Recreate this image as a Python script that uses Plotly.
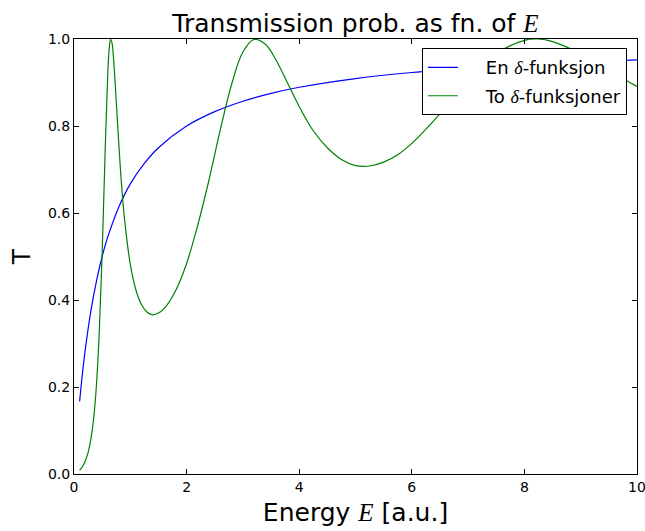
import plotly.graph_objects as go

# ---- data ----
energy_single = [0.1, 0.15, 0.2, 0.3, 0.4, 0.5, 0.6, 0.8, 1.0, 1.25, 1.5, 2.0, 2.5,
                 3.0, 3.5, 4.0, 5.0, 6.0, 7.0, 8.0, 9.0, 10.0]
T_single = [0.167, 0.231, 0.286, 0.375, 0.444, 0.500, 0.545, 0.615, 0.667, 0.714,
            0.750, 0.800, 0.833, 0.857, 0.875, 0.889, 0.909, 0.923, 0.933, 0.941,
            0.947, 0.952]

energy_double = [0.1, 0.15, 0.2, 0.25, 0.3, 0.35, 0.4, 0.45, 0.5, 0.55, 0.6, 0.625,
                 0.65, 0.675, 0.7, 0.75, 0.8, 0.85, 0.9, 1.0, 1.1, 1.2, 1.3, 1.4,
                 1.5, 1.6, 1.8, 2.0, 2.2, 2.4, 2.6, 2.8, 3.0, 3.2, 3.4, 3.6, 3.8,
                 4.0, 4.25, 4.5, 4.75, 5.0, 5.25, 5.5, 5.75, 6.0, 6.5, 7.0, 7.5,
                 8.0, 8.25, 8.5, 9.0, 9.5, 10.0]
T_double = [0.009, 0.017, 0.030, 0.049, 0.080, 0.129, 0.207, 0.329, 0.507, 0.727,
            0.920, 0.977, 0.999, 0.991, 0.959, 0.858, 0.750, 0.656, 0.583, 0.482,
            0.423, 0.389, 0.372, 0.366, 0.370, 0.380, 0.420, 0.484, 0.573, 0.677,
            0.792, 0.896, 0.970, 0.999, 0.988, 0.949, 0.897, 0.845, 0.789, 0.750,
            0.723, 0.709, 0.708, 0.717, 0.734, 0.760, 0.828, 0.904, 0.966, 0.997,
            1.000, 0.994, 0.966, 0.927, 0.891]

x_ticks = [0, 2, 4, 6, 8, 10]
x_tick_text = ["0", "2", "4", "6", "8", "10"]
y_ticks = [0.0, 0.2, 0.4, 0.6, 0.8, 1.0]
y_tick_text = ["0.0", "0.2", "0.4", "0.6", "0.8", "1.0"]

MATH = "font-family:'Liberation Serif', 'DejaVu Serif', serif"
FONT = "DejaVu Sans"
PAD = "\u00a0\u00a0\u00a0\u00a0"

fig = go.Figure()
fig.add_trace(go.Scatter(
    x=energy_single, y=T_single, mode="lines", line_shape="spline",
    line=dict(color="#0000ff", width=1.2),
    name=f"{PAD}En <span style=\"{MATH}\"><i>δ</i></span>-funksjon",
    legendgroup="a",
))
fig.add_trace(go.Scatter(
    x=energy_double, y=T_double, mode="lines", line_shape="spline",
    line=dict(color="#008000", width=1.2),
    name=f"{PAD}To <span style=\"{MATH}\"><i>δ</i></span>-funksjoner",
    legendgroup="b",
))

axis_common = dict(
    showline=True, linecolor="#000000", linewidth=1, mirror="ticks",
    ticks="inside", ticklen=5, tickwidth=1, tickcolor="#000000",
    showgrid=False, zeroline=False, ticklabeloverflow="allow",
    automargin=False,
    tickfont=dict(family=FONT, size=14, color="#000000"),
)

fig.update_layout(
    width=645, height=531,
    margin=dict(l=74, r=8, t=39, b=57),
    paper_bgcolor="white", plot_bgcolor="white",
    font=dict(family=FONT, color="#000000"),
    title=dict(
        text=f"Transmission prob. as fn. of <span style=\"{MATH}\"><i>E</i></span>",
        x=0.5, xref="paper", xanchor="center",
        y=1, yref="paper", yanchor="bottom", pad=dict(b=7),
        font=dict(family=FONT, size=25, color="#000000"),
    ),
    xaxis=dict(
        range=[0, 10.0001], tickvals=x_ticks, ticktext=x_tick_text,
        title=dict(text=f"Energy <span style=\"{MATH}\"><i>E</i></span> [a.u.]",
                   font=dict(family=FONT, size=25, color="#000000"), standoff=9),
        **axis_common,
    ),
    yaxis=dict(
        range=[0, 1], tickvals=y_ticks, ticktext=y_tick_text,
        title=dict(text="T", font=dict(family=FONT, size=25, color="#000000"),
                   standoff=10),
        **axis_common,
    ),
    showlegend=True,
    legend=dict(
        x=0.982, y=0.979, xanchor="right", yanchor="top",
        xref="paper", yref="paper",
        bgcolor="white", bordercolor="#000000", borderwidth=1,
        font=dict(family=FONT, size=18, color="#000000"),
        tracegroupgap=2,
    ),
)

fig.write_html("out.html")
